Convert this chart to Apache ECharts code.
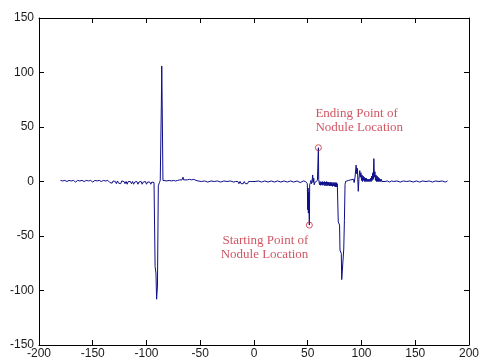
<!DOCTYPE html>
<html>
<head>
<meta charset="utf-8">
<script src="https://cdn.jsdelivr.net/npm/echarts@6/dist/echarts.min.js"></script>
<style>
  html, body { margin: 0; padding: 0; background: #fff; }
  #chart1 { width: 482px; height: 360px; }
</style>
</head>
<body>
<div id="chart1"></div>
<script>
// signal samples [x, y]
var signal = [
  [-180,1],[-178,0.5],[-176,1],[-174,0],[-172,1],[-170,0.5],[-168,1],[-166,-0.5],[-164,1],[-162,0.5],
  [-160,1],[-158,0],[-156,1],[-154,0.5],[-152,1],[-150,-0.5],[-148,1],[-146,0.5],[-144,1],[-142,0],
  [-140,1],[-138,0.5],[-136,1],[-134,-1],
  [-133,0.5],[-132,-1.5],[-131,0.5],[-130,-1],[-129,0],[-128,-2],[-127,0.5],[-126,-1.5],[-125,0],[-124,-2],
  [-123,0.5],[-122,-1],[-121,0],[-120,-2],[-119,0],[-118,-2.5],[-117,0],[-116,-1.5],[-115,0],[-114,-2],
  [-113,0],[-112,-2.5],[-111,-0.5],[-110,-2],[-109,0],[-108,-2.5],[-107,-0.5],[-106,-2],[-105,0],[-104,-2.5],
  [-103,-0.5],[-102,-2],[-101,0],[-100,-2.5],[-99,-0.5],[-98,-2],[-97,-0.5],[-96,-2.5],[-95,-0.5],[-94,-2],
  [-93,-1],[-92.3,-1.5],
  [-92,-78],[-91.2,-84],[-90.6,-108],[-89.8,-96],[-89,-4],[-88,-1],[-87.2,1],[-86.4,2],
  [-86.2,70],[-85.8,106],[-85.3,60],[-84.7,1],
  [-83,1],[-81,0.5],[-79,1],[-77,0.5],[-75,1],[-73,0.5],[-71,1],[-69,1.5],[-68,2],[-67,1.5],
  [-66,4],[-65.5,1.5],[-64,2],[-62,1.5],[-60,2],[-58,1.5],[-56,2],[-54,1],
  [-52,0.5],[-49,0],[-46,0.5],[-43,-0.5],[-40,0.5],[-37,0],[-34,0.5],[-31,-0.5],[-28,0.5],[-25,0],
  [-22,0.5],[-19,-0.5],
  [-17,0],[-16,-1.5],[-15,0],[-14,-2],[-13,0],[-12,-2],[-11,-0.5],[-10,-2],[-9,0],[-8,-2],
  [-7,-0.5],[-6,-2],[-5,0],[-4,-1.5],[-3,0],[-2,-1.5],[-1,0],[0,-1],[1,0],[2,-1],
  [4,0.5],[7,-0.5],[10,0.5],[13,-0.5],[16,0.5],[19,-0.5],[22,0.5],[25,-0.5],[28,0.5],[31,-0.5],
  [34,0.5],[37,-0.5],[40,0.5],[43,-1],[46,0.5],[48,0],[49,-1],
  [49.6,-2],[50,-26],[50.3,-6],[50.6,-29],[50.9,-10],[51.2,-28],[51.5,-40],[51.8,-3],[52.5,-1],[53,1],
  [53.5,-2],[54,0],[54.6,6],[55,-1],[55.6,3],[56,-3],[56.6,-1],[57.2,-2],[58,0],[59,1],
  [59.6,1],[59.9,31],[60.2,2],
  [60.6,-1],[61,-3],[61.5,0],[62,-3.5],[62.5,-0.5],[63,-3],[63.5,0],[64,-3.5],[64.5,-0.5],[65,-3],
  [65.5,0],[66,-4],[66.5,-0.5],[67,-3.5],[67.5,0],[68,-4],[68.5,-0.5],[69,-3.5],[69.5,-0.5],[70,-4],
  [70.5,-1],[71,-4],[71.5,-0.5],[72,-4],[72.5,-1],[73,-4.5],[73.5,-1],[74,-4],[74.5,-1],[75,-4.5],
  [75.5,-1],[76,-5],[76.5,-1],[77,-5],[77.5,-2],
  [78.2,-3],[78.4,-37],[79.6,-40],[80,-63],[81.2,-66],[81.6,-90],[82.2,-91],[83.5,-62],[84.1,-36],[84.7,-3],
  [85.2,0],[86,0.5],[88,1],[90,1.5],[91.5,3],[92.5,2],[93.2,-1],[94,4],[95,15],[95.6,7],
  [96.2,12],[97,-9],[97.6,2],[98.4,10],[99,4],[99.5,8],[100,1],[100.5,6],[101,0],[101.5,5],
  [102,1],[102.5,4],[103,0],[103.5,3],[104,0],[104.5,3],[105,0],[105.5,2],[106,0],[106.5,2],
  [107,0],[107.5,2],[108,0],[108.5,3],[109,0],[109.5,5],[110,1],[110.5,8],[111,2],[111.5,21],
  [112,4],[112.5,9],[113,1],[113.5,6],[114,0],[114.5,5],[115,0],[115.5,4],[116,0],[116.5,3],
  [117,0],[117.5,2],[118,0],[118.5,2],[119,0],
  [120,1],[122,0],[124,0.5],[126,-0.5],[128,0.5],[130,0],[133,0.5],[136,-0.5],[139,0.5],[142,0],
  [145,0.5],[148,-0.5],[151,0.5],[154,-0.5],[157,0.5],[160,0],[163,0.5],[166,-0.5],[169,0.5],[172,0],
  [175,0.5],[178,-0.5],[180,0.5]
];

// nodule start / end markers
var startPoint = [51.5, -40];
var endPoint = [59.9, 31];
var startText = 'Starting Point of\nNodule Location';
var endText = 'Ending Point of\nNodule Location';

var myChart1 = echarts.init(document.getElementById('chart1'));

var axisCommon = {
  type: 'value',
  axisLine: { show: true, onZero: false, lineStyle: { color: '#000', width: 1 } },
  axisTick: { show: true, inside: true, length: 5, lineStyle: { color: '#000' } },
  splitLine: { show: false }
};
var labelFont = { fontFamily: 'Liberation Sans, Arial', fontSize: 12, color: '#1a1a1a' };
var noteFont = { fontFamily: 'Liberation Serif, Times New Roman', fontSize: 13, color: '#c42a3c', lineHeight: 14 };

var option1 = {
  animation: false,
  backgroundColor: '#fff',
  grid: { left: 39, right: 10, top: 18, bottom: 15 },
  xAxis: [
    Object.assign({}, axisCommon, {
      position: 'bottom', min: -200, max: 200, interval: 50,
      axisLabel: Object.assign({ margin: 3 }, labelFont)
    }),
    Object.assign({}, axisCommon, {
      position: 'top', min: -200, max: 200, interval: 50,
      axisLabel: { show: false }
    })
  ],
  yAxis: [
    Object.assign({}, axisCommon, {
      position: 'left', min: -150, max: 150, interval: 50,
      axisLabel: Object.assign({ margin: 5 }, labelFont)
    }),
    Object.assign({}, axisCommon, {
      position: 'right', min: -150, max: 150, interval: 50,
      axisLabel: { show: false }
    })
  ],
  series: [
    {
      type: 'line',
      data: signal,
      showSymbol: false,
      lineStyle: { color: '#0d0d8a', width: 1 },
      z: 2
    },
    {
      type: 'scatter',
      symbol: 'circle',
      symbolSize: 6,
      itemStyle: { color: 'rgba(255,255,255,0)', borderColor: '#c42a3c', borderWidth: 1 },
      data: [
        {
          value: startPoint,
          label: Object.assign({
            show: true, formatter: startText, position: 'bottom',
            align: 'right', verticalAlign: 'top', offset: [-1, 0]
          }, noteFont)
        },
        {
          value: endPoint,
          label: Object.assign({
            show: true, formatter: endText, position: 'top',
            align: 'left', verticalAlign: 'bottom', offset: [-3, -5]
          }, noteFont)
        }
      ],
      z: 3
    }
  ]
};

myChart1.setOption(option1);
</script>
</body>
</html>
